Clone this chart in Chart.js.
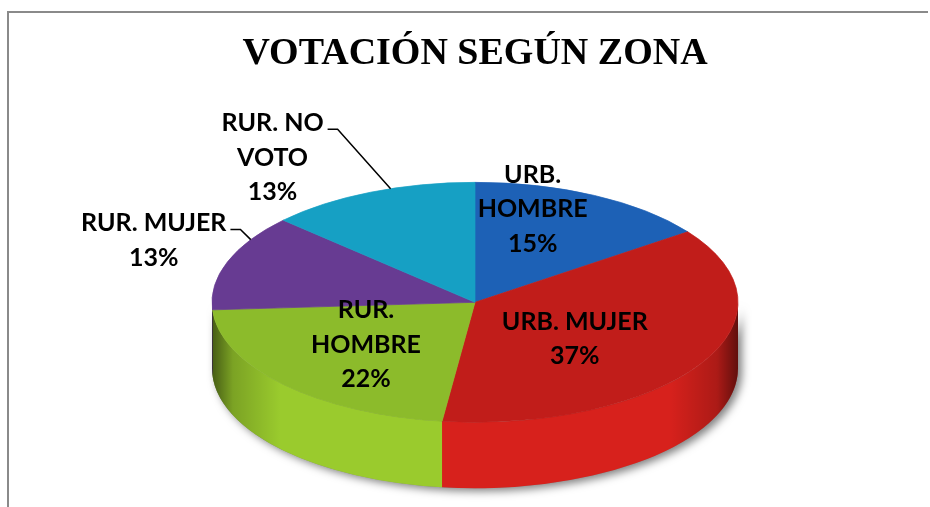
<!DOCTYPE html>
<html>
<head>
<meta charset="utf-8">
<script src="https://cdn.jsdelivr.net/npm/chart.js@4.4.0/dist/chart.umd.min.js"></script>
<style>
  body { margin: 0; background: #fff; }
  canvas { display: block; }
</style>
</head>
<body>
<canvas id="pie-chart" width="930" height="507"></canvas>
<script>
const chartTitle = 'VOTACIÓN SEGÚN ZONA';
const categories = ['URB. HOMBRE', 'URB. MUJER', 'RUR. HOMBRE', 'RUR. MUJER', 'RUR. NO VOTO'];
const votes = [15, 37, 22, 13, 13];
const topColors = ['#1d61b6', '#c11d1a', '#8cbb2b', '#673b92', '#16a0c4'];
const sideColors = ['#1f6ac6', '#d7211c', '#9acb2d', '#7042a0', '#18acd2'];

// how Excel wrapped each data label, and where it was put
// along: where on the slice the label is anchored (0 = start, 1 = end)
const labelLines = [['URB.', 'HOMBRE'], ['URB. MUJER'], ['RUR.', 'HOMBRE'], ['RUR. MUJER'], ['RUR. NO', 'VOTO']];
const labelPlace = [
    { inside: true, along: 0.5, nudge: [-14, -29] },
    { inside: true, along: 0.5, nudge: [-36, 0] },
    { inside: true, along: 0.5, nudge: [6, -7] },
    { inside: false, along: 0.75, nudge: [-97, 1] },
    { inside: false, along: 0.6, nudge: [-118, -31] }
];

const tilt = 0.456;   // squash of the pie top into an ellipse
const depth = 66;     // thickness of the 3D side

const total = votes.reduce((a, b) => a + b, 0);

function sidePath(ctx, x, y, rx, ry, a0, a1) {
    ctx.beginPath();
    ctx.ellipse(x, y, rx, ry, 0, a0, a1);
    ctx.ellipse(x, y + depth, rx, ry, 0, a1, a0, true);
    ctx.closePath();
}

const pie3d = {
    id: 'pie3d',
    beforeDraw(chart) {
        // chart frame (top and left border, cut off in the screenshot)
        const ctx = chart.ctx;
        ctx.save();
        ctx.strokeStyle = '#8a8a8a';
        ctx.lineWidth = 2;
        ctx.beginPath();
        ctx.moveTo(8, chart.height);
        ctx.lineTo(8, 12);
        ctx.lineTo(chart.width - 2, 12);
        ctx.stroke();
        ctx.restore();
    },
    beforeDatasetsDraw(chart) {
        const ctx = chart.ctx;
        const arcs = chart.getDatasetMeta(0).data;
        const { x, y, outerRadius: r } = arcs[0];
        const ry = r * tilt;

        ctx.save();
        // drop shadow under the whole side
        ctx.shadowColor = 'rgba(0,0,0,0.5)';
        ctx.shadowBlur = 8;
        ctx.shadowOffsetX = 4;
        ctx.shadowOffsetY = 3;
        sidePath(ctx, x, y, r, ry, 0, Math.PI);
        ctx.fillStyle = '#888';
        ctx.fill();
        ctx.restore();

        // side of every slice in the front half
        ctx.save();
        arcs.forEach((arc, i) => {
            for (let k = -1; k <= 1; k++) {
                const lo = Math.max(arc.startAngle, 2 * Math.PI * k);
                const hi = Math.min(arc.endAngle, 2 * Math.PI * k + Math.PI);
                if (hi > lo) {
                    sidePath(ctx, x, y, r, ry, lo, hi);
                    ctx.fillStyle = sideColors[i];
                    ctx.fill();
                }
            }
        });
        // darken towards the left and right ends
        const g = ctx.createLinearGradient(x - r, 0, x + r, 0);
        g.addColorStop(0, 'rgba(0,0,0,0.55)');
        g.addColorStop(0.04, 'rgba(0,0,0,0.2)');
        g.addColorStop(0.13, 'rgba(0,0,0,0)');
        g.addColorStop(0.87, 'rgba(0,0,0,0)');
        g.addColorStop(0.96, 'rgba(0,0,0,0.2)');
        g.addColorStop(1, 'rgba(0,0,0,0.55)');
        sidePath(ctx, x, y, r, ry, 0, Math.PI);
        ctx.fillStyle = g;
        ctx.fill();
        ctx.restore();

        // squash the pie top
        ctx.save();
        ctx.translate(x, y);
        ctx.scale(1, tilt);
        ctx.translate(-x, -y);
    },
    afterDatasetsDraw(chart) {
        chart.ctx.restore();
    },
    afterDraw(chart) {
        const ctx = chart.ctx;
        const arcs = chart.getDatasetMeta(0).data;
        const lineH = 34.5;
        ctx.save();
        ctx.font = 'bold 25px Lato, "Open Sans", sans-serif';
        ctx.fillStyle = '#000';
        ctx.textAlign = 'center';
        ctx.textBaseline = 'middle';
        arcs.forEach((arc, i) => {
            const { x, y, outerRadius: r } = arc;
            const place = labelPlace[i];
            const a = arc.startAngle + (arc.endAngle - arc.startAngle) * place.along;
            const f = place.inside ? 0.6 : 1;
            const px = x + Math.cos(a) * r * f;
            const py = y + Math.sin(a) * r * tilt * f;
            const lines = labelLines[i].concat([Math.round(votes[i] / total * 100) + '%']);
            const cx = px + place.nudge[0];
            const cy = py + place.nudge[1];
            const y0 = cy - (lines.length - 1) * lineH / 2;
            lines.forEach((t, j) => ctx.fillText(t, cx, y0 + j * lineH));
            if (!place.inside) {
                const w = ctx.measureText(lines[0]).width;
                const sx = cx + w / 2 + 4;
                const sy = y0 + 6;
                ctx.beginPath();
                ctx.moveTo(sx, sy);
                ctx.lineTo(sx + 10, sy);
                ctx.lineTo(px, py);
                ctx.strokeStyle = '#000';
                ctx.lineWidth = 1.5;
                ctx.stroke();
            }
        });
        ctx.restore();
    }
};

new Chart(document.getElementById('pie-chart'), {
    type: 'pie',
    data: {
        labels: categories,
        datasets: [{
            data: votes,
            backgroundColor: topColors,
            borderColor: topColors,
            borderWidth: 1,
            radius: 263,
            clip: false
        }]
    },
    options: {
        responsive: false,
        animation: false,
        events: [],
        layout: { padding: { left: 20, right: 0, top: 0, bottom: 9 } },
        plugins: {
            legend: { display: false },
            tooltip: { enabled: false },
            title: {
                display: true,
                text: chartTitle,
                color: '#000',
                font: { family: '"Liberation Serif", "Times New Roman", serif', size: 38, weight: 'bold' },
                padding: { top: 31, bottom: 30 }
            }
        }
    },
    plugins: [pie3d]
});
</script>
</body>
</html>
